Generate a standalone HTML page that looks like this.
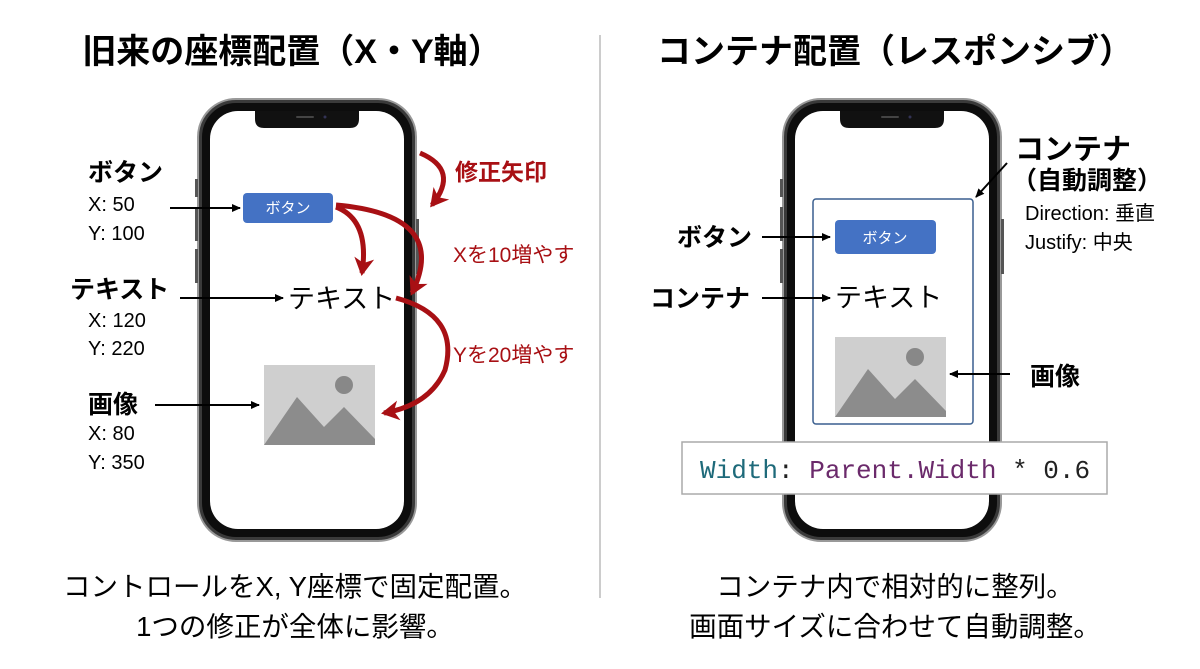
<!DOCTYPE html>
<html><head><meta charset="utf-8"><style>
html,body{margin:0;padding:0;background:#fff;}
svg{display:block;}
text{font-family:"Liberation Sans","Noto Sans CJK JP",sans-serif;}
.b{font-weight:bold;}
.mono{font-family:"Liberation Mono","DejaVu Sans Mono",monospace;}
</style></head><body>
<svg width="1200" height="669" viewBox="0 0 1200 669" xmlns="http://www.w3.org/2000/svg">
<defs>
<marker id="ak" markerWidth="10" markerHeight="10" refX="8" refY="5" orient="auto" markerUnits="userSpaceOnUse"><path d="M0,1 L9,5 L0,9 z" fill="#000"/></marker>
<marker id="ar" markerWidth="24" markerHeight="24" refX="15" refY="12" orient="auto" markerUnits="userSpaceOnUse"><path d="M0,2 L18,12 L0,22 L5,12 z" fill="#a81014"/></marker>
<g id="phone">
  <rect x="0" y="0" width="218" height="442" rx="38" fill="#3a3a3a" stroke="#999" stroke-width="2"/>
  <rect x="4" y="4" width="210" height="434" rx="34" fill="#0d0d0d"/>
  <rect x="12" y="12" width="194" height="418" rx="28" fill="#fff"/>
  <path d="M57,12 h104 v8 q0,9 -9,9 h-86 q-9,0 -9,-9 z" fill="#111"/>
  <rect x="98" y="17" width="18" height="2" rx="1" fill="#444"/>
  <circle cx="127" cy="18" r="1.5" fill="#335"/>
  <rect x="-3" y="80" width="3" height="18" fill="#555"/>
  <rect x="-3" y="108" width="3" height="34" fill="#555"/>
  <rect x="-3" y="150" width="3" height="34" fill="#555"/>
  <rect x="218" y="120" width="3" height="55" fill="#555"/>
</g>
<g id="img">
  <rect x="0" y="0" width="111" height="80" fill="#cfcfcf"/>
  <circle cx="80" cy="20" r="9" fill="#888"/>
  <path d="M0,80 L33,32 L60,62 L80,42 L111,74 L111,80 z" fill="#8c8c8c"/>
</g>
</defs>

<text x="292" y="63" font-size="34" class="b" text-anchor="middle">旧来の座標配置（X・Y軸）</text>
<text x="895" y="63" font-size="34" class="b" text-anchor="middle">コンテナ配置（レスポンシブ）</text>
<line x1="600" y1="35" x2="600" y2="598" stroke="#999" stroke-width="1"/>

<use href="#phone" x="198" y="99"/>
<rect x="243" y="193" width="90" height="30" rx="4" fill="#4472c4"/>
<text x="288" y="213" font-size="15" fill="#fff" text-anchor="middle">ボタン</text>
<text x="288" y="308" font-size="27">テキスト</text>
<use href="#img" x="264" y="365"/>

<text x="88" y="181" font-size="25" class="b">ボタン</text>
<text x="88" y="211" font-size="20">X: 50</text>
<text x="88" y="240" font-size="20">Y: 100</text>
<line x1="170" y1="208" x2="240" y2="208" stroke="#000" stroke-width="2" marker-end="url(#ak)"/>

<text x="70" y="298" font-size="25" class="b">テキスト</text>
<text x="88" y="327" font-size="20">X: 120</text>
<text x="88" y="355" font-size="20">Y: 220</text>
<line x1="180" y1="298" x2="283" y2="298" stroke="#000" stroke-width="2" marker-end="url(#ak)"/>

<text x="88" y="413" font-size="25" class="b">画像</text>
<text x="88" y="440" font-size="20">X: 80</text>
<text x="88" y="469" font-size="20">Y: 350</text>
<line x1="155" y1="405" x2="259" y2="405" stroke="#000" stroke-width="2" marker-end="url(#ak)"/>

<path d="M420,153 Q460,170 432,205" fill="none" stroke="#a81014" stroke-width="5" marker-end="url(#ar)"/>
<path d="M336,207 Q370,220 362,273" fill="none" stroke="#a81014" stroke-width="5" marker-end="url(#ar)"/>
<path d="M336,205 Q450,215 412,293" fill="none" stroke="#a81014" stroke-width="5" marker-end="url(#ar)"/>
<path d="M396,298 Q460,315 445,370 Q430,405 384,413" fill="none" stroke="#a81014" stroke-width="5" marker-end="url(#ar)"/>
<text x="455" y="180" font-size="23" class="b" fill="#a81014">修正矢印</text>
<text x="453" y="262" font-size="21" fill="#a81014">Xを10増やす</text>
<text x="453" y="362" font-size="21" fill="#a81014">Yを20増やす</text>

<use href="#phone" x="783" y="99"/>
<rect x="813" y="199" width="160" height="225" rx="3" fill="none" stroke="#3a5f8f" stroke-width="1.5"/>
<rect x="835" y="220" width="101" height="34" rx="4" fill="#4472c4"/>
<text x="885" y="243" font-size="15" fill="#fff" text-anchor="middle">ボタン</text>
<text x="835" y="307" font-size="27">テキスト</text>
<use href="#img" x="835" y="337"/>

<text x="677" y="246" font-size="25" class="b">ボタン</text>
<line x1="762" y1="237" x2="830" y2="237" stroke="#000" stroke-width="2" marker-end="url(#ak)"/>
<text x="650" y="307" font-size="25" class="b">コンテナ</text>
<line x1="762" y1="298" x2="830" y2="298" stroke="#000" stroke-width="2" marker-end="url(#ak)"/>
<line x1="1010" y1="374" x2="950" y2="374" stroke="#000" stroke-width="2" marker-end="url(#ak)"/>
<text x="1030" y="385" font-size="25" class="b">画像</text>

<text x="1015" y="159" font-size="29" class="b">コンテナ</text>
<text x="1012" y="189" font-size="25" class="b">（自動調整）</text>
<text x="1025" y="220" font-size="20">Direction: 垂直</text>
<text x="1025" y="249" font-size="20">Justify: 中央</text>
<line x1="1007" y1="163" x2="976" y2="197" stroke="#000" stroke-width="2" marker-end="url(#ak)"/>

<rect x="682" y="442" width="425" height="52" fill="#fff" stroke="#aaa" stroke-width="1.5"/>
<text x="700" y="478" font-size="26" class="mono"><tspan fill="#1e6a7a">Width</tspan><tspan fill="#222">: </tspan><tspan fill="#6b2a6b">Parent.Width</tspan><tspan fill="#222"> * 0.6</tspan></text>

<text x="295" y="596" font-size="27.5" text-anchor="middle">コントロールをX, Y座標で固定配置。</text>
<text x="295" y="636" font-size="27.5" text-anchor="middle">1つの修正が全体に影響。</text>
<text x="895" y="596" font-size="27.5" text-anchor="middle">コンテナ内で相対的に整列。</text>
<text x="895" y="636" font-size="27.5" text-anchor="middle">画面サイズに合わせて自動調整。</text>
</svg>
</body></html>
